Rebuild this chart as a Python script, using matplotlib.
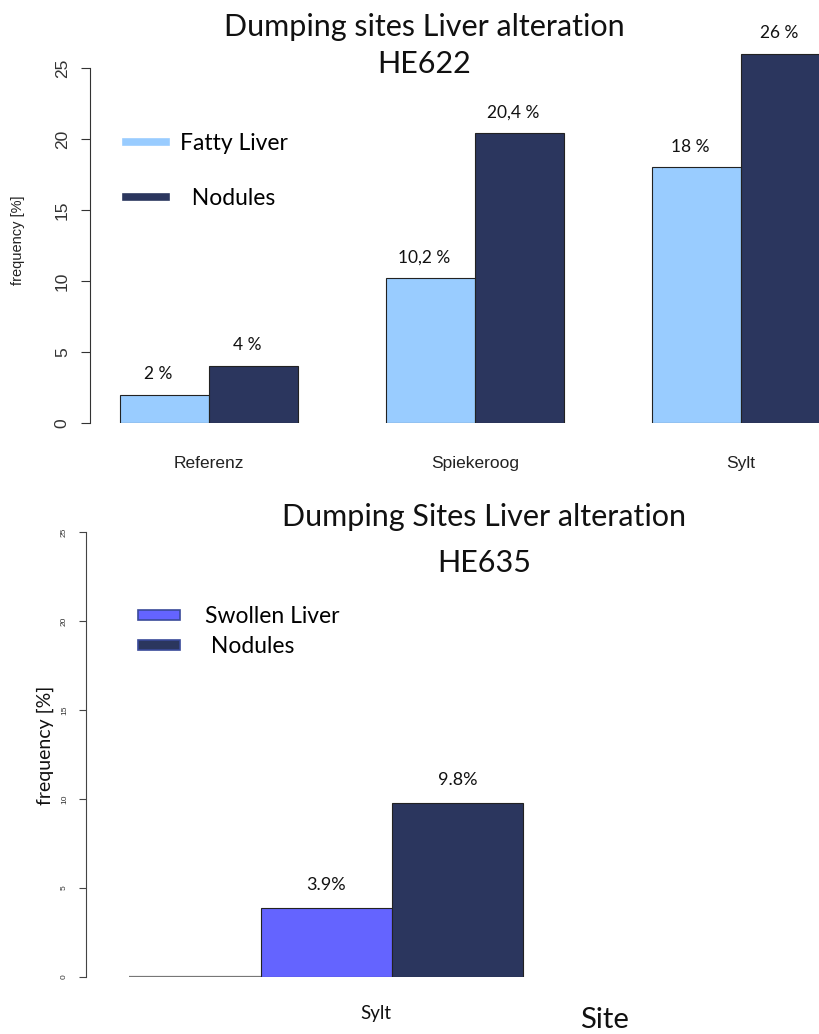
import matplotlib
matplotlib.use("Agg")
import matplotlib.pyplot as plt
from matplotlib.lines import Line2D
from matplotlib.patches import Patch
import numpy as np

# ---------------- data ----------------
top_sites = ["Referenz", "Spiekeroog", "Sylt"]
top_fatty = [2.0, 10.2, 18.0]
top_nodules = [4.0, 20.4, 26.0]
top_fatty_labels = ["2 %", "10,2 %", "18 %"]
top_nodules_labels = ["4 %", "20,4 %", "26 %"]
top_yticks = [0, 5, 10, 15, 20, 25]

bottom_site = ["Sylt"]
bottom_baseline = [0.0]
bottom_swollen = [3.9]
bottom_nodules = [9.8]
bottom_swollen_labels = ["3.9%"]
bottom_nodules_labels = ["9.8%"]
bottom_yticks = [0, 5, 10, 15, 20, 25]

# ---------------- style ----------------
C_FATTY = "#99CCFF"
C_NOD = "#2B365E"
C_SWOL = "#6464FF"
UI = "Lato"
AX = "Liberation Sans"

W, H = 819, 1034
fig = plt.figure(figsize=(W / 100, H / 100), dpi=100)


def fx(x):
    return x / W


def fy(y):
    return 1 - y / H


def add_axes_px(left, right, bottom, top):
    return fig.add_axes([fx(left), fy(bottom), (right - left) / W, (bottom - top) / H])


# ---------------- top chart ----------------
ax1 = add_axes_px(90, 819, 423, 423 - 28 * 14.2)
grp = np.arange(len(top_sites)) * 3.0
b1 = ax1.bar(grp + 1, top_fatty, width=1.0, align="edge", color=C_FATTY,
             edgecolor="#222222", linewidth=0.8)
b2 = ax1.bar(grp + 2, top_nodules, width=1.0, align="edge", color=C_NOD,
             edgecolor="#222222", linewidth=0.8)
ax1.set_xlim(0.66, 8.88)
ax1.set_ylim(0, 28)
for s in ["top", "right", "bottom"]:
    ax1.spines[s].set_visible(False)
ax1.spines["left"].set_bounds(0, 25)
ax1.spines["left"].set_color("#333333")
ax1.set_yticks(top_yticks)
ax1.set_yticklabels([str(t) for t in top_yticks], rotation=90, va="center",
                    fontfamily=AX, fontsize=12.5, color="#333333")
ax1.tick_params(axis="y", length=6.5, pad=8, color="#333333")
ax1.set_xticks(grp + 2)
ax1.set_xticklabels(top_sites, fontfamily=AX, fontsize=12.5, color="#222222")
ax1.tick_params(axis="x", length=0, pad=24)
for rect, lab in zip(b1, top_fatty_labels):
    ax1.annotate(lab, (rect.get_x() + rect.get_width() / 2 - 0.07, rect.get_height()),
                 xytext=(0, 15), textcoords="offset points", ha="center", va="center",
                 fontfamily=UI, fontsize=12.5, color="#111111")
for rect, lab in zip(b2, top_nodules_labels):
    ax1.annotate(lab, (rect.get_x() + rect.get_width() / 2 - 0.07, rect.get_height()),
                 xytext=(0, 15), textcoords="offset points", ha="center", va="center",
                 fontfamily=UI, fontsize=12.5, color="#111111")
fig.text(fx(18), fy(240), "frequency [%]", rotation=90, ha="center", va="center",
         fontfamily=AX, fontsize=10.5, color="#222222")
fig.text(fx(424), fy(27), "Dumping sites Liver alteration", ha="center", va="center",
         fontfamily=UI, fontsize=22, color="#111111")
fig.text(fx(424), fy(64), "HE622", ha="center", va="center",
         fontfamily=UI, fontsize=22, color="#111111")
h_top = [Line2D([], [], color=C_FATTY, lw=5.5), Line2D([], [], color=C_NOD, lw=5.5)]
fig.legend(h_top, ["Fatty Liver", "  Nodules"], loc="upper left",
           bbox_to_anchor=(fx(126), fy(133)), bbox_transform=fig.transFigure,
           frameon=False, borderpad=0, borderaxespad=0, handlelength=1.75,
           handletextpad=0.6, labelspacing=1.48, prop={"family": UI, "size": 16.5})

# ---------------- bottom chart ----------------
ax2 = add_axes_px(86, 819, 977, 977 - 27 * 17.8)
ax2.bar([0], bottom_baseline, width=1.0, align="edge", color="white",
        edgecolor="#777777", linewidth=1.6)
s1 = ax2.bar([1], bottom_swollen, width=1.0, align="edge", color=C_SWOL,
             edgecolor="#222222", linewidth=0.8)
s2 = ax2.bar([2], bottom_nodules, width=1.0, align="edge", color=C_NOD,
             edgecolor="#222222", linewidth=0.8)
ax2.set_xlim(-0.33, 5.25)
ax2.set_ylim(0, 27)
for s in ["top", "right", "bottom"]:
    ax2.spines[s].set_visible(False)
ax2.spines["left"].set_bounds(0, 25)
ax2.spines["left"].set_color("#444444")
ax2.set_yticks(bottom_yticks)
ax2.set_yticklabels([str(t) for t in bottom_yticks], rotation=90, va="center",
                    fontfamily=AX, fontsize=6, color="#333333")
ax2.tick_params(axis="y", length=5, pad=8, color="#444444")
ax2.set_xticks([1.88])
ax2.set_xticklabels(bottom_site, fontfamily=UI, fontsize=13.5, color="#111111")
ax2.tick_params(axis="x", length=0, pad=20)
for rect, lab in zip(s1, bottom_swollen_labels):
    ax2.annotate(lab, (rect.get_x() + rect.get_width() / 2, rect.get_height()),
                 xytext=(0, 16), textcoords="offset points", ha="center", va="center",
                 fontfamily=UI, fontsize=13, color="#111111")
for rect, lab in zip(s2, bottom_nodules_labels):
    ax2.annotate(lab, (rect.get_x() + rect.get_width() / 2, rect.get_height()),
                 xytext=(0, 16), textcoords="offset points", ha="center", va="center",
                 fontfamily=UI, fontsize=13, color="#111111")
fig.text(fx(45), fy(745), "frequency [%]", rotation=90, ha="center", va="center",
         fontfamily=UI, fontsize=14, color="#111111")
fig.text(fx(484), fy(517), "Dumping Sites Liver alteration", ha="center", va="center",
         fontfamily=UI, fontsize=22, color="#111111")
fig.text(fx(484), fy(563), "HE635", ha="center", va="center",
         fontfamily=UI, fontsize=22, color="#111111")
fig.text(fx(604), fy(1020), "Site", ha="center", va="center",
         fontfamily=UI, fontsize=21, color="#111111")
h_bot = [Patch(facecolor=C_SWOL, edgecolor="#3a4a9a", lw=1.2),
         Patch(facecolor=C_NOD, edgecolor="#3a4a9a", lw=1.2)]
fig.legend(h_bot, ["Swollen Liver", " Nodules"], loc="upper left",
           bbox_to_anchor=(fx(138), fy(606)), bbox_transform=fig.transFigure,
           frameon=False, borderpad=0, borderaxespad=0, handlelength=1.83,
           handleheight=0.3, handletextpad=1.1, labelspacing=0.39,
           prop={"family": UI, "size": 16.5})

fig.savefig("out.png", dpi=100)
